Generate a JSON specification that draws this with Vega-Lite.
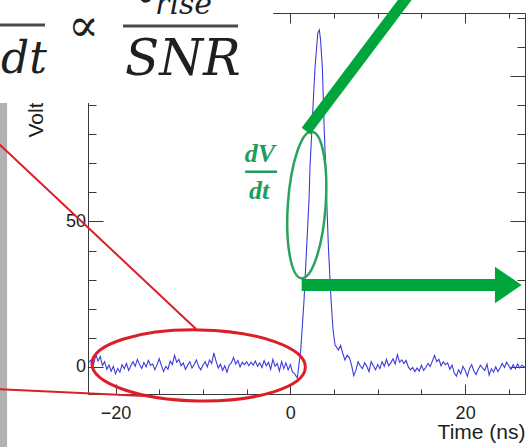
{
  "$schema": "https://vega.github.io/schema/vega-lite/v6.json",
  "width": 437,
  "height": 381,
  "autosize": {"type": "none"},
  "padding": {"left": 88, "top": 13, "right": 6, "bottom": 53},
  "background": "white",
  "config": {
    "view": {"stroke": "#3a3a3a", "strokeWidth": 1},
    "axis": {
      "grid": false,
      "domain": false,
      "tickColor": "#3a3a3a",
      "tickWidth": 1,
      "labelFont": "Liberation Sans",
      "labelFontSize": 18,
      "labelColor": "#1e1e1e",
      "titleFont": "Liberation Sans",
      "titleFontWeight": "normal",
      "titleColor": "#1e1e1e"
    }
  },
  "datasets": {
    "wave": [
      {"t": -23.1, "v": 1.5}, {"t": -22.75, "v": 2.5}, {"t": -22.5, "v": 1.0}, {"t": -22.25, "v": 4.2},
      {"t": -22.0, "v": 2.0}, {"t": -21.75, "v": 3.6}, {"t": -21.5, "v": 0.5}, {"t": -21.25, "v": 1.8},
      {"t": -21.0, "v": -0.8}, {"t": -20.75, "v": 0.6}, {"t": -20.5, "v": -1.5}, {"t": -20.25, "v": 0.2},
      {"t": -20.0, "v": -2.4}, {"t": -19.75, "v": -0.5}, {"t": -19.5, "v": -1.8}, {"t": -19.25, "v": 0.8},
      {"t": -19.0, "v": -0.6}, {"t": -18.75, "v": 1.2}, {"t": -18.5, "v": -1.2}, {"t": -18.25, "v": 0.4},
      {"t": -18.0, "v": 1.8}, {"t": -17.75, "v": 0.2}, {"t": -17.5, "v": 2.6}, {"t": -17.25, "v": 0.8},
      {"t": -17.0, "v": -0.5}, {"t": -16.75, "v": 1.5}, {"t": -16.5, "v": 0.0}, {"t": -16.25, "v": 2.2},
      {"t": -16.0, "v": 0.6}, {"t": -15.75, "v": 1.0}, {"t": -15.5, "v": -1.0}, {"t": -15.25, "v": 0.8},
      {"t": -15.0, "v": 2.8}, {"t": -14.75, "v": 0.5}, {"t": -14.5, "v": -1.6}, {"t": -14.25, "v": 0.2},
      {"t": -14.0, "v": -0.8}, {"t": -13.75, "v": 2.0}, {"t": -13.5, "v": 0.8}, {"t": -13.25, "v": 4.0},
      {"t": -13.0, "v": 1.6}, {"t": -12.75, "v": 2.6}, {"t": -12.5, "v": 0.4}, {"t": -12.25, "v": 1.4},
      {"t": -12.0, "v": -0.8}, {"t": -11.75, "v": 0.6}, {"t": -11.5, "v": 1.8}, {"t": -11.25, "v": -0.4},
      {"t": -11.0, "v": 0.8}, {"t": -10.75, "v": 2.4}, {"t": -10.5, "v": 0.2}, {"t": -10.25, "v": -1.0},
      {"t": -10.0, "v": 0.6}, {"t": -9.75, "v": 1.8}, {"t": -9.5, "v": 0.0}, {"t": -9.25, "v": 2.4},
      {"t": -9.0, "v": 1.2}, {"t": -8.75, "v": 4.8}, {"t": -8.5, "v": 2.0}, {"t": -8.25, "v": -0.4},
      {"t": -8.0, "v": 1.0}, {"t": -7.75, "v": -1.2}, {"t": -7.5, "v": 0.4}, {"t": -7.25, "v": -1.8},
      {"t": -7.0, "v": 0.6}, {"t": -6.75, "v": 1.4}, {"t": -6.5, "v": 3.2}, {"t": -6.25, "v": 1.0},
      {"t": -6.0, "v": 2.2}, {"t": -5.75, "v": 0.0}, {"t": -5.5, "v": 1.6}, {"t": -5.25, "v": 0.8},
      {"t": -5.0, "v": 1.8}, {"t": -4.75, "v": 0.4}, {"t": -4.5, "v": 1.6}, {"t": -4.25, "v": 0.6},
      {"t": -4.0, "v": 2.0}, {"t": -3.75, "v": 0.2}, {"t": -3.5, "v": 1.4}, {"t": -3.25, "v": -0.2},
      {"t": -3.0, "v": 2.2}, {"t": -2.75, "v": 0.4}, {"t": -2.5, "v": 1.6}, {"t": -2.25, "v": -0.8},
      {"t": -2.0, "v": 2.6}, {"t": -1.75, "v": 0.2}, {"t": -1.5, "v": 1.2}, {"t": -1.25, "v": -1.4},
      {"t": -1.0, "v": 1.8}, {"t": -0.75, "v": -0.6}, {"t": -0.5, "v": 1.4}, {"t": -0.25, "v": -1.0},
      {"t": 0.0, "v": 0.8}, {"t": 0.25, "v": -1.8}, {"t": 0.5, "v": -2.4}, {"t": 0.8, "v": -3.8},
      {"t": 1.19, "v": 5.8}, {"t": 1.57, "v": 23.0}, {"t": 1.85, "v": 40.2}, {"t": 2.14, "v": 57.4},
      {"t": 2.25, "v": 68.7}, {"t": 2.45, "v": 80.4}, {"t": 2.63, "v": 91.7}, {"t": 2.83, "v": 103.1},
      {"t": 3.14, "v": 114.7}, {"t": 3.32, "v": 115.8}, {"t": 3.46, "v": 112.3}, {"t": 3.66, "v": 103.1},
      {"t": 3.78, "v": 91.7}, {"t": 3.89, "v": 80.4}, {"t": 4.05, "v": 68.7}, {"t": 4.16, "v": 57.4},
      {"t": 4.37, "v": 40.2}, {"t": 4.66, "v": 23.0}, {"t": 4.89, "v": 12.7}, {"t": 5.11, "v": 7.6},
      {"t": 5.5, "v": 5.8}, {"t": 5.75, "v": 7.4}, {"t": 6.0, "v": 4.6}, {"t": 6.25, "v": 2.4},
      {"t": 6.5, "v": 4.0}, {"t": 6.75, "v": 3.2}, {"t": 7.0, "v": 0.7}, {"t": 7.25, "v": -3.0},
      {"t": 7.5, "v": -1.2}, {"t": 7.75, "v": 1.8}, {"t": 8.0, "v": 0.4}, {"t": 8.25, "v": -0.6},
      {"t": 8.5, "v": 1.4}, {"t": 8.75, "v": 0.2}, {"t": 9.0, "v": -1.6}, {"t": 9.25, "v": 1.8},
      {"t": 9.5, "v": 0.4}, {"t": 9.75, "v": -1.0}, {"t": 10.0, "v": 0.8}, {"t": 10.25, "v": -0.6},
      {"t": 10.5, "v": 1.8}, {"t": 10.75, "v": 0.2}, {"t": 11.0, "v": 2.6}, {"t": 11.25, "v": 0.4},
      {"t": 11.5, "v": 1.4}, {"t": 11.75, "v": 2.8}, {"t": 12.0, "v": 1.0}, {"t": 12.25, "v": 4.2},
      {"t": 12.5, "v": 1.6}, {"t": 12.75, "v": 2.4}, {"t": 13.0, "v": 1.2}, {"t": 13.25, "v": 2.2},
      {"t": 13.5, "v": 0.0}, {"t": 13.75, "v": -1.0}, {"t": 14.0, "v": -0.2}, {"t": 14.25, "v": -1.6},
      {"t": 14.5, "v": -0.4}, {"t": 14.75, "v": -1.4}, {"t": 15.0, "v": 0.6}, {"t": 15.25, "v": -1.2},
      {"t": 15.5, "v": -0.2}, {"t": 15.75, "v": 1.2}, {"t": 16.0, "v": 0.2}, {"t": 16.25, "v": 2.0},
      {"t": 16.5, "v": 4.0}, {"t": 16.75, "v": 1.8}, {"t": 17.0, "v": 2.6}, {"t": 17.25, "v": 0.4},
      {"t": 17.5, "v": 1.8}, {"t": 17.75, "v": 0.8}, {"t": 18.0, "v": 1.4}, {"t": 18.25, "v": -0.8},
      {"t": 18.5, "v": 0.6}, {"t": 18.75, "v": -2.0}, {"t": 19.0, "v": -3.2}, {"t": 19.25, "v": -1.0},
      {"t": 19.5, "v": -2.4}, {"t": 19.75, "v": 0.2}, {"t": 20.0, "v": -1.2}, {"t": 20.25, "v": -3.2},
      {"t": 20.5, "v": -0.6}, {"t": 20.75, "v": 0.8}, {"t": 21.0, "v": -1.4}, {"t": 21.25, "v": -2.6},
      {"t": 21.5, "v": -0.8}, {"t": 21.75, "v": 0.6}, {"t": 22.0, "v": -0.4}, {"t": 22.25, "v": -1.2},
      {"t": 22.5, "v": 1.0}, {"t": 22.75, "v": -2.8}, {"t": 23.0, "v": -0.6}, {"t": 23.25, "v": -1.8},
      {"t": 23.5, "v": 0.0}, {"t": 23.75, "v": -1.6}, {"t": 24.0, "v": -0.4}, {"t": 24.25, "v": 1.2},
      {"t": 24.5, "v": -0.2}, {"t": 24.75, "v": 1.6}, {"t": 25.0, "v": 0.4}, {"t": 25.25, "v": -0.8},
      {"t": 25.5, "v": 0.8}, {"t": 25.75, "v": -0.6}, {"t": 26.0, "v": 1.0}, {"t": 26.25, "v": -0.4},
      {"t": 26.5, "v": 0.6}, {"t": 26.85, "v": -0.2}
    ],
    "sideBar": [{"t": -34, "t2": -32.41, "v": 90.7, "v2": -32}],
    "baselineRing": [{"t": -10.49, "v": 0.52}],
    "callouts": [
      {"t": -33.79, "v": 77.9, "t2": -10.79, "v2": 13.05},
      {"t": -33.79, "v": -7.59, "t2": -16.05, "v2": -10.06}
    ],
    "edgeRing": [{"t": 1.88, "v": 55.65}],
    "pointer": [{"t": 1.8, "v": 81.07, "t2": 14.38, "v2": 131.2}],
    "arrowShaft": [{"t": 1.3, "t2": 23.8, "v": 28.17}],
    "arrowHead": [{"t": 24.94, "v": 28.17}],
    "slopeText": [
      {"t": -3.47, "v": 70.42, "label": "dV"},
      {"t": -3.58, "v": 57.7, "label": "dt"}
    ],
    "slopeBar": [{"t": -5.17, "t2": -1.52, "v": 67.09}],
    "formulaBox": [{"t": -34, "t2": -1.95, "v": 90.7, "v2": 131}],
    "formulaBars": [
      {"t": -33.79, "t2": -28.07, "v": 117.5},
      {"t": -19.14, "t2": -5.98, "v": 117.1}
    ],
    "formulaDt": [{"t": -33.1, "v": 101.0, "label": "dt"}],
    "formulaSnr": [{"t": -18.92, "v": 100.3, "label": "SNR"}],
    "formulaProp": [{"t": -23.66, "v": 112.0, "label": "∝"}],
    "formulaTau": [{"t": -18.35, "v": 125.3, "label": "τ"}],
    "formulaRise": [{"t": -15.48, "v": 121.3, "label": "rise"}]
  },
  "encoding": {
    "x": {"field": "t", "type": "quantitative", "scale": {"domain": [-23.15, 26.85], "nice": false, "zero": false}, "axis": null},
    "y": {"field": "v", "type": "quantitative", "scale": {"domain": [-9.3, 121.6], "nice": false, "zero": false}, "axis": null}
  },
  "layer": [
    {
      "data": {"name": "sideBar"},
      "mark": {"type": "rect", "color": "#b2b2b2", "clip": false},
      "encoding": {
        "x": {"field": "t", "type": "quantitative", "scale": {"domain": [-23.15, 26.85], "nice": false, "zero": false},
              "axis": {"orient": "bottom", "values": [-20, -15, -10, -5, 0, 5, 10, 15, 20, 25], "tickSize": -5, "labels": false, "title": null}},
        "x2": {"field": "t2"},
        "y": {"field": "v", "type": "quantitative", "scale": {"domain": [-9.3, 121.6], "nice": false, "zero": false},
              "axis": {"orient": "left", "values": [0, 10, 20, 30, 40, 50, 60, 70, 80, 90, 100, 110, 120], "tickSize": -8, "labels": false, "title": null}},
        "y2": {"field": "v2"}
      }
    },
    {
      "data": {"name": "wave"},
      "mark": {"type": "line", "color": "#3c3cdc", "strokeWidth": 1.1, "interpolate": "linear"},
      "encoding": {
        "x": {"field": "t", "type": "quantitative", "scale": {"domain": [-23.15, 26.85], "nice": false, "zero": false},
              "axis": {"orient": "bottom", "values": [-20, 0, 20], "tickSize": -10, "labelPadding": 34.5, "labelBaseline": "alphabetic", "labelFlush": false, "labelOverlap": false,
                       "title": "Time (ns)", "titleFontSize": 21, "titleX": 437, "titleY": 44, "titleAlign": "right", "titleBaseline": "alphabetic"}},
        "y": {"field": "v", "type": "quantitative", "scale": {"domain": [-9.3, 121.6], "nice": false, "zero": false},
              "axis": {"orient": "left", "values": [0, 50, 100], "tickSize": -15, "labelPadding": 17.5, "labelBaseline": "middle", "labelFlush": false, "labelOverlap": false,
                       "title": "Voltage (mV)", "titleFontSize": 21, "titleAngle": 270, "titleAlign": "left", "titleBaseline": "alphabetic", "titleX": -46, "titleY": 124}}
      }
    },
    {
      "data": {"name": "baselineRing"},
      "mark": {"type": "point", "shape": "M -1 0 C -1 -0.184 -0.552 -0.333 0 -0.333 C 0.552 -0.333 1 -0.184 1 0 C 1 0.184 0.552 0.333 0 0.333 C -0.552 0.333 -1 0.184 -1 0 Z",
               "size": 45540, "angle": 1, "filled": false, "stroke": "#dc1e28", "strokeWidth": 3, "opacity": 1, "clip": false},
      "encoding": {
        "x": {"field": "t", "type": "quantitative", "scale": {"domain": [-23.15, 26.85], "nice": false, "zero": false},
              "axis": {"orient": "top", "values": [-20, 0, 20], "tickSize": -10, "labels": false, "title": null}},
        "y": {"field": "v", "type": "quantitative", "scale": {"domain": [-9.3, 121.6], "nice": false, "zero": false},
              "axis": {"orient": "right", "values": [0, 50, 100], "tickSize": -15, "labels": false, "title": null}}
      }
    },
    {
      "data": {"name": "callouts"},
      "mark": {"type": "rule", "color": "#dc1e28", "strokeWidth": 2, "clip": false},
      "encoding": {
        "x": {"field": "t", "type": "quantitative", "scale": {"domain": [-23.15, 26.85], "nice": false, "zero": false},
              "axis": {"orient": "top", "values": [-20, -15, -10, -5, 0, 5, 10, 15, 20, 25], "tickSize": -5, "labels": false, "title": null}},
        "y": {"field": "v", "type": "quantitative", "scale": {"domain": [-9.3, 121.6], "nice": false, "zero": false},
              "axis": {"orient": "right", "values": [0, 10, 20, 30, 40, 50, 60, 70, 80, 90, 100, 110, 120], "tickSize": -8, "labels": false, "title": null}},
        "x2": {"field": "t2"},
        "y2": {"field": "v2"}
      }
    },
    {
      "data": {"name": "edgeRing"},
      "mark": {"type": "point", "shape": "M 0 -1 C 0.142 -1 0.257 -0.552 0.257 0 C 0.257 0.552 0.142 1 0 1 C -0.142 1 -0.257 0.552 -0.257 0 C -0.257 -0.552 -0.142 -1 0 -1 Z",
               "size": 21609, "angle": 4, "filled": false, "stroke": "#27a35c", "strokeWidth": 2.5, "opacity": 1, "clip": false}
    },
    {
      "data": {"name": "pointer"},
      "mark": {"type": "rule", "color": "#00a63c", "strokeWidth": 11, "strokeCap": "butt", "clip": false},
      "encoding": {"x2": {"field": "t2"}, "y2": {"field": "v2"}}
    },
    {
      "data": {"name": "arrowShaft"},
      "mark": {"type": "rule", "color": "#00a63c", "strokeWidth": 12, "strokeCap": "butt", "clip": false},
      "encoding": {"x2": {"field": "t2"}}
    },
    {
      "data": {"name": "arrowHead"},
      "mark": {"type": "point", "shape": "M -0.73 -1 L 0.73 0 L -0.73 1 Z", "size": 1340, "filled": true, "color": "#00a63c", "opacity": 1, "strokeWidth": 0, "clip": false}
    },
    {
      "data": {"name": "slopeText"},
      "mark": {"type": "text", "font": "Liberation Serif", "fontStyle": "italic", "fontWeight": "bold", "fontSize": 26, "color": "#229c5a", "align": "center", "baseline": "alphabetic", "clip": false},
      "encoding": {"text": {"field": "label"}}
    },
    {
      "data": {"name": "slopeBar"},
      "mark": {"type": "rule", "color": "#229c5a", "strokeWidth": 2.5, "clip": false},
      "encoding": {"x2": {"field": "t2"}}
    },
    {
      "data": {"name": "formulaBox"},
      "mark": {"type": "rect", "color": "white", "clip": false},
      "encoding": {"x2": {"field": "t2"}, "y2": {"field": "v2"}}
    },
    {
      "data": {"name": "formulaBars"},
      "mark": {"type": "rule", "color": "#4a4a4a", "strokeWidth": 3, "clip": false},
      "encoding": {"x2": {"field": "t2"}}
    },
    {
      "data": {"name": "formulaDt"},
      "mark": {"type": "text", "font": "DejaVu Serif", "fontStyle": "italic", "fontSize": 44, "color": "#1f1f1f", "align": "left", "baseline": "alphabetic", "clip": false},
      "encoding": {"text": {"field": "label"}}
    },
    {
      "data": {"name": "formulaSnr"},
      "mark": {"type": "text", "font": "DejaVu Serif", "fontStyle": "italic", "fontSize": 50, "color": "#1f1f1f", "align": "left", "baseline": "alphabetic", "clip": false},
      "encoding": {"text": {"field": "label"}}
    },
    {
      "data": {"name": "formulaProp"},
      "mark": {"type": "text", "font": "DejaVu Serif", "fontSize": 46, "color": "#1f1f1f", "align": "center", "baseline": "alphabetic", "clip": false},
      "encoding": {"text": {"field": "label"}}
    },
    {
      "data": {"name": "formulaTau"},
      "mark": {"type": "text", "font": "DejaVu Serif", "fontStyle": "italic", "fontSize": 50, "color": "#1f1f1f", "align": "left", "baseline": "alphabetic", "clip": false},
      "encoding": {"text": {"field": "label"}}
    },
    {
      "data": {"name": "formulaRise"},
      "mark": {"type": "text", "font": "DejaVu Serif", "fontStyle": "italic", "fontSize": 30, "color": "#1f1f1f", "align": "left", "baseline": "alphabetic", "clip": false},
      "encoding": {"text": {"field": "label"}}
    }
  ],
  "resolve": {"axis": {"x": "independent", "y": "independent"}}
}
